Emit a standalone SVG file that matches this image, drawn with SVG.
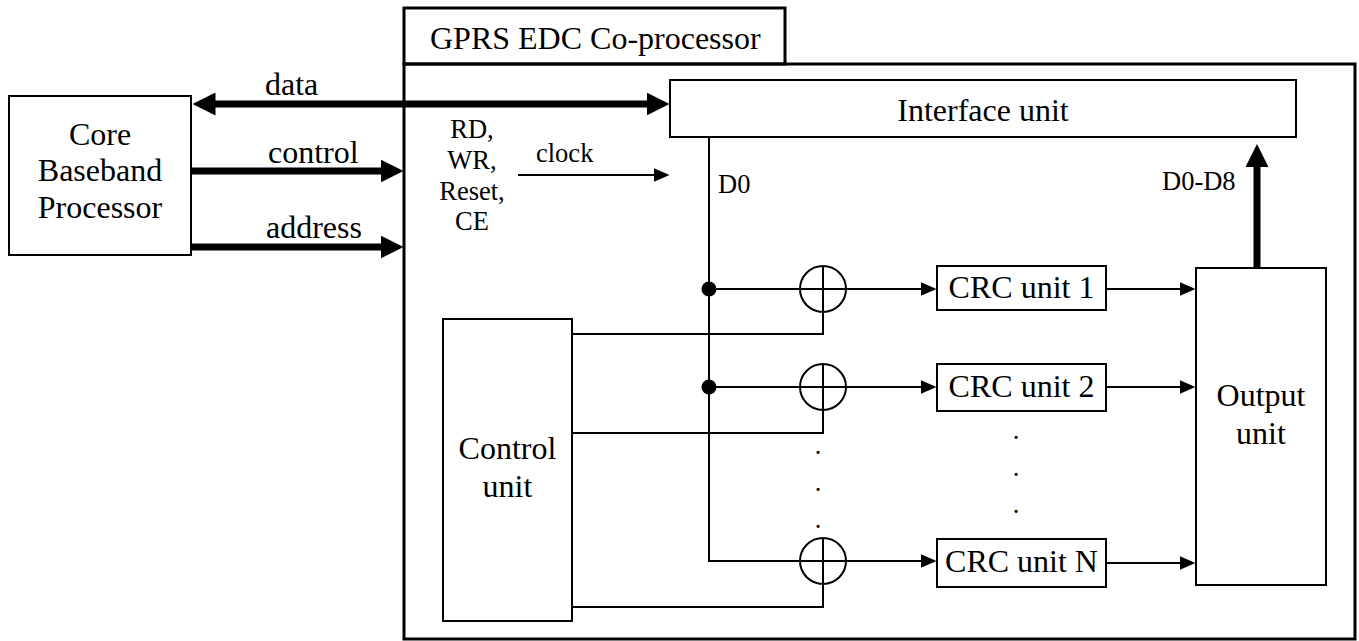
<svg xmlns="http://www.w3.org/2000/svg" width="1359" height="641" viewBox="0 0 1359 641">
<defs>
<style>
.box{fill:#fff;stroke:#000;stroke-width:2}
.outer{fill:none;stroke:#000;stroke-width:3}
text{font-family:'Liberation Serif','Times New Roman','DejaVu Serif',Times,serif;fill:#000}
.t{font-size:32px}
.s{font-size:26.5px}
.m{text-anchor:middle}
.w{fill:none;stroke:#000;stroke-width:2}
.bus{fill:none;stroke:#000;stroke-width:7}
</style>
<marker id="big" viewBox="0 0 23 23" refX="0.5" refY="11.5" markerWidth="23" markerHeight="23" markerUnits="userSpaceOnUse" orient="auto-start-reverse">
<path d="M0,0 L23,11.5 L0,23 z" fill="#000"/>
</marker>
<marker id="small" viewBox="0 0 16 14" refX="0.5" refY="7" markerWidth="16" markerHeight="14" markerUnits="userSpaceOnUse" orient="auto">
<path d="M0,0 L16,7 L0,14 z" fill="#000"/>
</marker>
</defs>
<rect width="1359" height="641" fill="#fff"/>

<g id="coprocessor">
<rect class="outer" x="404" y="64" width="951" height="575"/>
<rect class="outer" x="404" y="8" width="381" height="56"/>
<text class="t" x="430" y="49" font-family="Liberation Serif, serif">GPRS EDC Co-processor</text>
</g>

<g id="core">
<rect class="box" x="9" y="96" width="182" height="159"/>
<text class="t m" x="100" y="145">Core</text>
<text class="t m" x="100" y="181">Baseband</text>
<text class="t m" x="100" y="218">Processor</text>
</g>

<g id="interface">
<rect class="box" x="670" y="80" width="626" height="57"/>
<text class="t m" x="983" y="121">Interface unit</text>
</g>

<g id="control">
<rect class="box" x="443" y="319" width="129" height="302"/>
<text class="t m" x="507.5" y="459">Control</text>
<text class="t m" x="507.5" y="497">unit</text>
</g>

<g id="crc1">
<rect class="box" x="937" y="266" width="169" height="44"/>
<text class="t m" x="1021.5" y="298">CRC unit 1</text>
</g>
<g id="crc2">
<rect class="box" x="937" y="364" width="169" height="47"/>
<text class="t m" x="1021.5" y="397">CRC unit 2</text>
</g>
<g id="crcN">
<rect class="box" x="937" y="539" width="169" height="48"/>
<text class="t m" x="1021.5" y="572">CRC unit N</text>
</g>

<g id="output">
<rect class="box" x="1196" y="268" width="130" height="317"/>
<text class="t m" x="1261" y="406">Output</text>
<text class="t m" x="1261" y="444">unit</text>
</g>

<g id="xor1"><circle class="w" cx="823" cy="289" r="23"/></g>
<g id="xor2"><circle class="w" cx="823" cy="387" r="23"/></g>
<g id="xorN"><circle class="w" cx="823" cy="561" r="23"/></g>

<g id="connectors">
<line class="bus" x1="215" y1="104" x2="647" y2="104" marker-start="url(#big)" marker-end="url(#big)"/>
<line class="bus" x1="191" y1="171" x2="381" y2="171" marker-end="url(#big)"/>
<line class="bus" x1="191" y1="247" x2="381" y2="247" marker-end="url(#big)"/>
<line class="bus" x1="1257" y1="268" x2="1257" y2="166.5" marker-end="url(#big)"/>
<line class="w" x1="518" y1="175" x2="654" y2="175" marker-end="url(#small)"/>
<polyline class="w" points="709,137 709,561 921,561" marker-end="url(#small)"/>
<line class="w" x1="709" y1="289" x2="921" y2="289" marker-end="url(#small)"/>
<line class="w" x1="709" y1="387" x2="921" y2="387" marker-end="url(#small)"/>
<polyline class="w" points="572,334 823,334 823,266"/>
<polyline class="w" points="572,433 823,433 823,364"/>
<polyline class="w" points="572,607 823,607 823,538"/>
<line class="w" x1="1106" y1="289" x2="1180" y2="289" marker-end="url(#small)"/>
<line class="w" x1="1106" y1="387" x2="1180" y2="387" marker-end="url(#small)"/>
<line class="w" x1="1106" y1="563" x2="1180" y2="563" marker-end="url(#small)"/>
<circle cx="709" cy="289" r="7.5" fill="#000"/>
<circle cx="709" cy="387" r="7.5" fill="#000"/>
</g>

<g id="labels">
<text class="t" x="265" y="95">data</text>
<text class="t" x="268" y="163">control</text>
<text class="t" x="266" y="238">address</text>
<text class="s m" x="472" y="138">RD,</text>
<text class="s m" x="472" y="169">WR,</text>
<text class="s m" x="472" y="200">Reset,</text>
<text class="s m" x="472" y="230">CE</text>
<text class="s" x="536" y="162">clock</text>
<text class="s" x="718" y="193">D0</text>
<text class="s" x="1162" y="190">D0-D8</text>
<text class="s m" x="818" y="454">.</text>
<text class="s m" x="818" y="491">.</text>
<text class="s m" x="818" y="528">.</text>
<text class="s m" x="1016" y="439">.</text>
<text class="s m" x="1016" y="476">.</text>
<text class="s m" x="1016" y="513">.</text>
</g>
</svg>
